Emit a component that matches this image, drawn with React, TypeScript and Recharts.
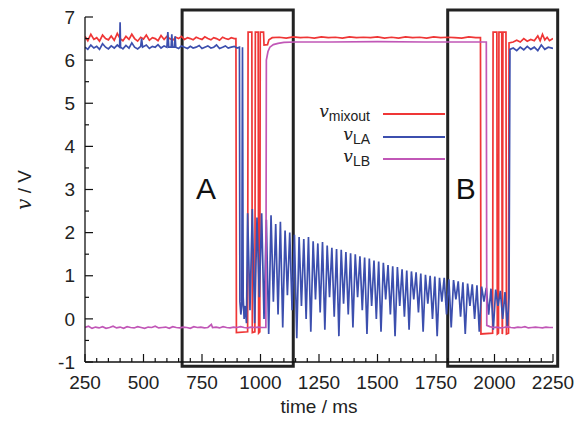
import React from 'react';
import { LineChart, Line, XAxis, YAxis, ReferenceArea } from 'recharts';

// ---------- data ----------
const xMajorTicks = [250, 500, 750, 1000, 1250, 1500, 1750, 2000, 2250];
const xMinorTicks = [300, 350, 400, 450, 550, 600, 650, 700, 800, 850, 900, 950, 1050, 1100, 1150, 1200, 1300, 1350, 1400, 1450, 1550, 1600, 1650, 1700, 1800, 1850, 1900, 1950, 2050, 2100, 2150, 2200];
const yMajorTicks = [-1, 0, 1, 2, 3, 4, 5, 6, 7];
const yMinorTicks = [-0.5, 0.5, 1.5, 2.5, 3.5, 4.5, 5.5, 6.5];

const seriesSubs = ['mixout', 'LA', 'LB'];

// [time ms, voltage V]
const mixoutSeries: [number, number][] = [
  [250, 6.55], [262, 6.45], [275, 6.6], [288, 6.48], [300, 6.52], [312, 6.44], [325, 6.58], [338, 6.5], [350, 6.47], [362, 6.56],
  [375, 6.46], [388, 6.62], [400, 6.5], [412, 6.45], [425, 6.55], [438, 6.48], [450, 6.6], [462, 6.5], [475, 6.44], [488, 6.53],
  [500, 6.49], [512, 6.58], [525, 6.46], [538, 6.52], [550, 6.5], [562, 6.45], [575, 6.57], [588, 6.48], [600, 6.55], [612, 6.5],
  [625, 6.46], [638, 6.53], [650, 6.5], [662, 6.55], [675, 6.48], [688, 6.52], [700, 6.5], [712, 6.47], [725, 6.53], [738, 6.5],
  [750, 6.48], [762, 6.54], [775, 6.5], [788, 6.47], [800, 6.52], [812, 6.5], [825, 6.46], [838, 6.53], [850, 6.5], [862, 6.48],
  [875, 6.52], [888, 6.5], [895, 6.5],
  [897, -0.32], [945, -0.3], [947, 6.65], [963, 6.65], [965, -0.32], [976, -0.3], [978, 6.65], [990, 6.65], [992, -0.33], [997, -0.3],
  [999, 6.65], [1013, 6.65], [1015, 6.35], [1030, 6.36], [1036, 6.47], [1050, 6.52],
  [1080, 6.53], [1110, 6.51], [1140, 6.54], [1170, 6.52], [1200, 6.53], [1230, 6.51], [1260, 6.54], [1290, 6.52], [1320, 6.53], [1350, 6.51],
  [1380, 6.54], [1410, 6.52], [1440, 6.53], [1470, 6.52], [1500, 6.54], [1530, 6.51], [1560, 6.53], [1590, 6.51], [1620, 6.54], [1650, 6.52],
  [1680, 6.53], [1710, 6.51], [1740, 6.54], [1770, 6.52], [1800, 6.53], [1830, 6.52], [1860, 6.51], [1890, 6.54], [1920, 6.52], [1940, 6.52],
  [1942, -0.35], [1992, -0.33], [1994, 6.65], [2010, 6.65], [2012, -0.35], [2017, -0.33], [2019, 6.65], [2031, 6.65], [2033, -0.35], [2034, -0.33],
  [2036, 6.65], [2049, 6.65], [2051, -0.35], [2060, -0.33], [2062, 6.4], [2080, 6.42], [2095, 6.46], [2110, 6.42], [2125, 6.5], [2140, 6.44],
  [2155, 6.48], [2170, 6.45], [2185, 6.56], [2195, 6.45], [2205, 6.6], [2215, 6.47], [2225, 6.53], [2235, 6.45], [2250, 6.5],
];

const laSeries: [number, number][] = [
  [250, 6.3], [262, 6.25], [275, 6.35], [288, 6.28], [300, 6.32], [312, 6.25], [325, 6.38], [338, 6.3], [350, 6.26], [362, 6.33],
  [375, 6.28], [388, 6.35], [398, 6.3], [400, 6.88], [402, 6.3], [412, 6.26], [425, 6.34], [438, 6.28], [450, 6.4], [462, 6.3],
  [475, 6.26], [488, 6.32], [492, 6.5], [496, 6.3], [512, 6.35], [525, 6.27], [538, 6.32], [550, 6.3], [562, 6.36], [575, 6.28],
  [588, 6.33], [600, 6.3], [604, 6.65], [608, 6.3], [618, 6.3], [621, 6.6], [624, 6.3], [632, 6.3], [635, 6.55], [638, 6.3],
  [650, 6.27], [662, 6.33], [675, 6.3], [688, 6.27], [700, 6.32], [712, 6.28], [725, 6.3], [738, 6.34], [750, 6.27], [762, 6.3],
  [775, 6.33], [788, 6.28], [800, 6.3], [812, 6.35], [825, 6.27], [838, 6.3], [850, 6.33], [862, 6.28], [875, 6.3], [888, 6.32],
  [900, 6.28], [910, 6.3],
  [912, 0.4], [916, 0.1], [920, 0.3], [923, 6.3], [926, 0.5], [930, 0.0], [935, 0.3], [940, -0.1],
  [945, 2.45], [955, 0.2], [965, 2.55], [975, -0.1], [985, 2.35], [995, 0.5], [1005, 2.45], [1015, 0.0], [1025, 2.3], [1035, -0.35],
  [1045, 2.4], [1055, 0.4], [1065, 2.2], [1075, 0.1], [1085, 2.25], [1095, -0.2], [1105, 2.05], [1115, 0.55], [1125, 2.0], [1135, 0.2],
  [1145, 1.95], [1155, -0.45], [1165, 1.9], [1175, 0.3], [1185, 1.85], [1195, 0.0], [1205, 1.9], [1215, -0.3], [1225, 1.8], [1235, 0.45],
  [1245, 1.75], [1255, 0.15], [1265, 1.78], [1275, -0.25], [1285, 1.7], [1295, 0.5], [1305, 1.65], [1315, 0.05], [1325, 1.62], [1335, -0.4],
  [1345, 1.6], [1355, 0.35], [1365, 1.55], [1375, 0.1], [1385, 1.52], [1395, -0.2], [1405, 1.5], [1415, 0.5], [1425, 1.45], [1435, 0.2],
  [1445, 1.42], [1455, -0.35], [1465, 1.4], [1475, 0.3], [1485, 1.35], [1495, 0.0], [1505, 1.33], [1515, -0.3], [1525, 1.3], [1535, 0.45],
  [1545, 1.25], [1555, 0.1], [1565, 1.22], [1575, -0.4], [1585, 1.2], [1595, 0.3], [1605, 1.15], [1615, 0.05], [1625, 1.12], [1635, -0.25],
  [1645, 1.1], [1655, 0.45], [1665, 1.08], [1675, 0.15], [1685, 1.05], [1695, -0.3], [1705, 1.02], [1715, 0.35], [1725, 1.0], [1735, 0.0],
  [1745, 0.98], [1755, -0.4], [1765, 0.95], [1775, 0.4], [1785, 0.95], [1795, 0.1], [1805, 0.92], [1815, -0.2], [1825, 0.9], [1835, 0.45],
  [1845, 0.87], [1855, 0.05], [1865, 0.85], [1875, -0.35], [1885, 0.82], [1895, 0.3], [1905, 0.8], [1915, 0.0], [1925, 0.78], [1935, -0.3],
  [1945, 0.75], [1955, 0.4], [1965, 0.72], [1975, 0.1], [1985, 0.7], [1995, -0.25], [2005, 0.68], [2015, 0.3], [2025, 0.65], [2035, 0.0],
  [2045, 0.62], [2055, -0.2], [2062, 0.5],
  [2066, 6.25], [2080, 6.28], [2095, 6.22], [2110, 6.3], [2125, 6.24], [2140, 6.32], [2155, 6.25], [2170, 6.3], [2185, 6.22], [2200, 6.35],
  [2215, 6.25], [2230, 6.3], [2250, 6.27],
];

const lbSeries: [number, number][] = [
  [250, -0.2], [265, -0.17], [280, -0.22], [295, -0.19], [310, -0.21], [325, -0.18], [340, -0.22], [355, -0.2], [370, -0.17], [385, -0.21],
  [400, -0.19], [415, -0.22], [430, -0.18], [445, -0.2], [460, -0.21], [475, -0.18], [490, -0.2], [505, -0.22], [520, -0.19], [535, -0.2],
  [550, -0.17], [565, -0.21], [580, -0.2], [595, -0.19], [610, -0.22], [625, -0.18], [640, -0.2], [655, -0.21], [670, -0.19], [685, -0.2],
  [700, -0.22], [715, -0.18], [730, -0.2], [745, -0.19], [760, -0.21], [775, -0.2], [790, -0.13], [795, -0.2], [810, -0.19], [825, -0.21],
  [840, -0.18], [855, -0.2], [870, -0.21], [885, -0.19], [900, -0.2], [915, -0.18], [930, -0.2], [945, -0.21], [960, -0.19], [975, -0.2],
  [990, -0.19], [1005, -0.2], [1023, -0.2],
  [1025, 6.0], [1032, 6.2], [1040, 6.3], [1055, 6.36], [1075, 6.39], [1100, 6.41], [1150, 6.42], [1300, 6.42], [1500, 6.43], [1700, 6.42],
  [1900, 6.42], [1965, 6.42],
  [1967, -0.15], [1980, -0.18], [1995, -0.2], [2010, -0.19], [2025, -0.21], [2040, -0.2], [2055, -0.18], [2070, -0.2], [2085, -0.21], [2100, -0.19],
  [2115, -0.2], [2130, -0.18], [2145, -0.21], [2160, -0.2], [2175, -0.19], [2190, -0.2], [2205, -0.21], [2220, -0.19], [2235, -0.2], [2250, -0.2],
];

const boxLabels = ['A', 'B'];
const boxStart = [665, 1800];
const boxEnd = [1140, 2270];
const boxLow = -1.1;
const boxHigh = 7.16;

// ---------- layout / style ----------
const W = 571;
const H = 412;
const COLORS = ['#ef3636', '#3c4fae', '#c157b7'];
const FONT = '"Liberation Sans", Arial, Helvetica, sans-serif';
const SERIF = '"DejaVu Serif", "Liberation Serif", serif';
const INK = '#111';
const X_MARGIN = 14;
const Y_MARGIN = 10;
const TICK_FS = 19;

const toRows = (s: [number, number][]) => s.map(([t, v]) => ({ t, v }));
const seriesData = [toRows(mixoutSeries), toRows(laSeries), toRows(lbSeries)];

const isMajor = (arr: number[], v: number) => arr.some((m) => Math.abs(m - v) < 1e-9);

function BottomTick(props: any) {
  const { x, y, payload } = props;
  const v = payload.value;
  const major = isMajor(xMajorTicks, v);
  const ay = y - X_MARGIN;
  return (
    <g>
      <line x1={x} x2={x} y1={ay} y2={ay - (major ? 8 : 4)} stroke={INK} strokeWidth={1.2} />
      {major ? (
        <text x={x} y={y} dy="0.71em" textAnchor="middle" fontSize={TICK_FS} fontFamily={FONT} fill="#222">
          {v}
        </text>
      ) : null}
    </g>
  );
}

function TopTick(props: any) {
  const { x, y, payload } = props;
  const major = isMajor(xMajorTicks, payload.value);
  return <line x1={x} x2={x} y1={y} y2={y + (major ? 8 : 4)} stroke={INK} strokeWidth={1.2} />;
}

function LeftTick(props: any) {
  const { x, y, payload } = props;
  const v = payload.value;
  const major = isMajor(yMajorTicks, v);
  const ax = x + Y_MARGIN;
  return (
    <g>
      <line x1={ax} x2={ax + (major ? 8 : 4)} y1={y} y2={y} stroke={INK} strokeWidth={1.2} />
      {major ? (
        <text x={x} y={y} dy="0.355em" textAnchor="end" fontSize={TICK_FS} fontFamily={FONT} fill="#222">
          {v}
        </text>
      ) : null}
    </g>
  );
}

function RightTick(props: any) {
  const { x, y, payload } = props;
  const major = isMajor(yMajorTicks, payload.value);
  return <line x1={x} x2={x - (major ? 8 : 4)} y1={y} y2={y} stroke={INK} strokeWidth={1.2} />;
}

const allXTicks = [...xMajorTicks, ...xMinorTicks].sort((a, b) => a - b);
const allYTicks = [...yMajorTicks, ...yMinorTicks].sort((a, b) => a - b);

const legendLineY = [106, 129, 151];

export default function App() {
  return (
    <div style={{ position: 'relative', width: W, height: H, background: '#fff' }}>
      <LineChart width={W} height={H} margin={{ top: 9, right: 26, bottom: 0, left: 0 }}>
        <XAxis
          xAxisId={0}
          dataKey="t"
          type="number"
          domain={[250, 2250]}
          allowDataOverflow
          ticks={allXTicks}
          interval={0}
          height={58}
          tickSize={0}
          tickMargin={X_MARGIN}
          tick={<BottomTick />}
          axisLine={{ stroke: INK, strokeWidth: 1.3 }}
          label={{ value: 'time / ms', position: 'insideBottom', offset: 7, fontSize: TICK_FS, fontFamily: FONT, fill: '#222' }}
        />
        <XAxis
          xAxisId="top"
          orientation="top"
          dataKey="t"
          type="number"
          domain={[250, 2250]}
          allowDataOverflow
          ticks={allXTicks}
          interval={0}
          height={0}
          tickSize={0}
          tickMargin={0}
          tick={<TopTick />}
          axisLine={{ stroke: INK, strokeWidth: 1.3 }}
        />
        <YAxis
          yAxisId={0}
          type="number"
          domain={[-1, 7]}
          allowDataOverflow
          ticks={allYTicks}
          interval={0}
          width={77}
          tickSize={0}
          tickMargin={Y_MARGIN}
          tick={<LeftTick />}
          axisLine={{ stroke: INK, strokeWidth: 1.3 }}
        />
        <YAxis
          yAxisId="right"
          orientation="right"
          type="number"
          domain={[-1, 7]}
          allowDataOverflow
          ticks={allYTicks}
          interval={0}
          width={0}
          tickSize={0}
          tickMargin={0}
          tick={<RightTick />}
          axisLine={{ stroke: INK, strokeWidth: 1.3 }}
        />
        {seriesData.map((d, i) => (
          <Line
            key={seriesSubs[i]}
            data={d}
            dataKey="v"
            type="linear"
            stroke={COLORS[i]}
            strokeWidth={1.7}
            dot={false}
            activeDot={false}
            isAnimationActive={false}
          />
        ))}
        {boxLabels.map((lab, i) => (
          <ReferenceArea
            key={lab}
            x1={boxStart[i]}
            x2={boxEnd[i]}
            y1={boxLow}
            y2={boxHigh}
            ifOverflow="visible"
            fill="none"
            fillOpacity={0}
            stroke="#222"
            strokeWidth={3}
            label={{ value: lab, position: 'insideLeft', offset: i === 0 ? 14 : 8, fontSize: 30, fontFamily: FONT, fill: '#111' }}
          />
        ))}
      </LineChart>
      <svg width={W} height={H} style={{ position: 'absolute', left: 0, top: 0, pointerEvents: 'none' }}>
        <text transform="translate(23,182) rotate(-90)" textAnchor="middle" fontSize={TICK_FS} fontFamily={FONT} fill="#222">
          <tspan fontFamily={SERIF} fontStyle="italic" fontSize={20}>v</tspan>
          <tspan> / V</tspan>
        </text>
        {seriesSubs.map((s, i) => (
          <g key={s}>
            <text x={362} y={legendLineY[i] + 3} textAnchor="end" fill="#222">
              <tspan fontFamily={SERIF} fontStyle="italic" fontSize={17}>v</tspan>
              <tspan fontFamily={FONT} fontSize={14} dy={4}>{s}</tspan>
            </text>
            <line x1={375} x2={437} y1={legendLineY[i]} y2={legendLineY[i]} stroke={COLORS[i]} strokeWidth={2} />
          </g>
        ))}
      </svg>
    </div>
  );
}
